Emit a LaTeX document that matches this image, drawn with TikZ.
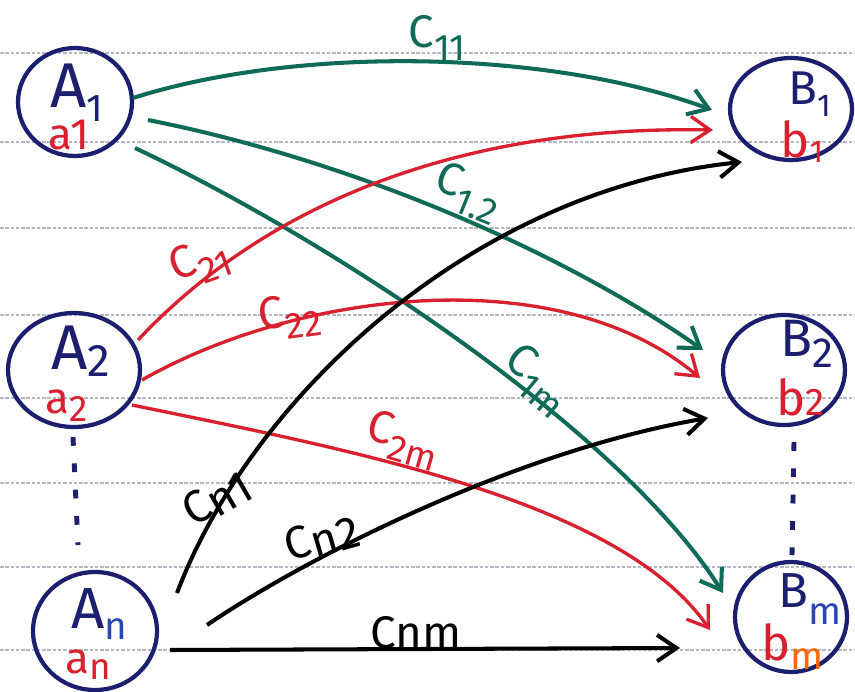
\documentclass[tikz,border=0pt]{standalone}
\usepackage{fontspec}
\setmainfont{Fira Sans}
\usetikzlibrary{arrows.meta,shapes.geometric}
\definecolor{navy}{HTML}{1C1F6E}
\definecolor{tealc}{HTML}{0F6B58}
\definecolor{redc}{HTML}{D8202E}
\definecolor{rulec}{HTML}{B4B8C4}
\definecolor{bluec}{HTML}{2A45B5}
\newcommand\cst[1]{C\raisebox{-0.28em}{\fontsize{21}{21}\selectfont #1}}
\begin{document}
\begin{tikzpicture}[x=0.02cm,y=-0.02cm,
  station/.style={ellipse, draw=navy, line width=2.4pt, inner sep=0pt},
  flow/.style={line width=2.3pt, -{Straight Barb[length=11pt,width=15pt]}},
  costlbl/.style={font=\fontsize{26}{26}\selectfont, inner sep=0pt},
  bigname/.style={anchor=base west, inner sep=0pt, text=navy, font=\fontsize{36}{36}\selectfont},
  midname/.style={anchor=base west, inner sep=0pt, text=navy, font=\fontsize{27}{27}\selectfont},
  amount/.style={anchor=base west, inner sep=0pt, text=redc, font=\fontsize{25}{25}\selectfont},
  ruleline/.style={draw=rulec, line width=0.6pt, dash pattern=on 2pt off 1pt},
  dotline/.style={draw=navy, line width=2.8pt, dash pattern=on 5pt off 10pt}]
\useasboundingbox (0,0) rectangle (855,692);
\fill[white] (0,0) rectangle (855,692);
\foreach \yy in {53,142,228,315,398,483,567,650}
  \draw[ruleline] (0,\yy) -- (855,\yy);

% stations
\node[station, minimum width=2.28cm, minimum height=2.16cm] (A1) at (75,102) {};
\node[station, minimum width=2.44cm, minimum height=2.04cm] (B1) at (791,109) {};
\node[station, minimum width=2.64cm, minimum height=2.28cm] (A2) at (74,370) {};
\node[station, minimum width=2.44cm, minimum height=2.20cm] (B2) at (784,370) {};
\node[station, minimum width=2.48cm, minimum height=2.36cm] (An) at (95,631) {};
\node[station, minimum width=2.24cm, minimum height=2.20cm] (Bm) at (791,617) {};

% station texts
\node[bigname] (A1t) at (50,108) {A\raisebox{-0.22em}{\fontsize{22}{22}\selectfont 1}};
\node[amount] (a1t) at (48,150) {a1};
\node[midname] (B1t) at (788,105) {B\raisebox{-0.25em}{\fontsize{18}{18}\selectfont 1}};
\node[amount, font=\fontsize{28}{28}\selectfont] (b1t) at (780,158) {b\raisebox{-0.1em}{\fontsize{18}{18}\selectfont 1}};
\node[bigname] (A2t) at (51,370) {A\raisebox{-0.1em}{\fontsize{26}{26}\selectfont 2}};
\node[amount] (a2t) at (45,413) {a\raisebox{-0.2em}{\fontsize{21}{21}\selectfont 2}};
\node[midname, font=\fontsize{30}{30}\selectfont] (B2t) at (780,357) {B\raisebox{-0.2em}{\fontsize{24}{24}\selectfont 2}};
\node[amount, font=\fontsize{28}{28}\selectfont] (b2t) at (776,415) {b\raisebox{-0.02em}{\fontsize{22}{22}\selectfont 2}};
\node[bigname, font=\fontsize{33}{33}\selectfont] (Ant) at (71,628) {A\raisebox{-0.2em}{\textcolor{bluec}{\fontsize{22}{22}\selectfont n}}};
\node[amount] (ant) at (65,673) {a\raisebox{-0.15em}{\fontsize{21}{21}\selectfont n}};
\node[midname, font=\fontsize{28}{28}\selectfont] (Bmt) at (778,607) {B\raisebox{-0.35em}{\textcolor{bluec}{\fontsize{22}{22}\selectfont m}}};
\node[amount, font=\fontsize{28}{28}\selectfont] (bmt) at (761,660) {b\raisebox{-0.2em}{\textcolor{orange!80!red}{\fontsize{22}{22}\selectfont m}}};

% continuation dots
\draw[dotline] ([shift={(-1,67)}]A2.center) -- ([shift={(-17,-86)}]An.center);
\draw[dotline] ([shift={(10,72)}]B2.center) -- ([shift={(1,-62)}]Bm.center);

% flows from A1 (teal)
\draw[flow, draw=tealc] ([shift={(58,-4)}]A1.center) .. controls (300,45) and (550,50) .. ([shift={(-79,1)}]B1.center);
\draw[flow, draw=tealc] ([shift={(73,18)}]A1.center) .. controls (350,160) and (560,250) .. ([shift={(-81,-20)}]B2.center);
\draw[flow, draw=tealc] ([shift={(60,46)}]A1.center) .. controls (330,240) and (620,430) .. ([shift={(-68,-24)}]Bm.center);

% flows from A2 (red)
\draw[flow, draw=redc, line width=1.9pt] ([shift={(64,-30)}]A2.center) .. controls (260,210) and (450,125) .. ([shift={(-78,21)}]B1.center);
\draw[flow, draw=redc, line width=1.9pt] ([shift={(68,10)}]A2.center) .. controls (300,290) and (560,260) .. ([shift={(-84,8)}]B2.center);
\draw[flow, draw=redc, line width=1.9pt] ([shift={(58,35)}]A2.center) .. controls (350,450) and (620,500) .. ([shift={(-81,13)}]Bm.center);

% flows from An (black)
\draw[flow, draw=black] ([shift={(82,-38)}]An.center) .. controls (250,400) and (470,190) .. ([shift={(-49,53)}]B1.center);
\draw[flow, draw=black] ([shift={(112,-6)}]An.center) .. controls (310,555) and (520,450) .. ([shift={(-76,48)}]B2.center);
\draw[flow, draw=black] ([shift={(75,19)}]An.center) -- ([shift={(-111,31)}]Bm.center);

% cost labels
\node[costlbl, text=tealc] (c11) at (437,38) {\cst{11}};
\node[costlbl, text=tealc, rotate=-22] (c12) at (468,193) {\cst{1.2}};
\node[costlbl, text=tealc, rotate=-40] (c1m) at (537,380) {\cst{1m}};
\node[costlbl, text=redc, rotate=20] (c21) at (200,262) {\cst{21}};
\node[costlbl, text=redc, rotate=8] (c22) at (290,317) {\cst{22}};
\node[costlbl, text=redc, rotate=-16] (c2m) at (403,440) {\cst{2m}};
\node[costlbl, text=black, rotate=30] (cn1) at (217,498) {C\raisebox{-0.1em}{n1}};
\node[costlbl, text=black, rotate=16] (cn2) at (322,538) {C\raisebox{-0.1em}{n2}};
\node[costlbl, text=black] (cnm) at (416,633) {Cnm};
\end{tikzpicture}
\end{document}
